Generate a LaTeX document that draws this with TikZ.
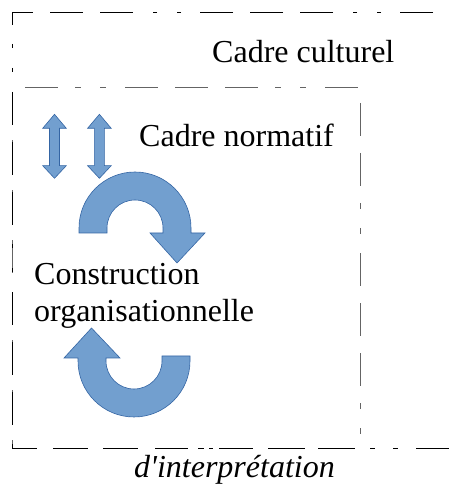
\documentclass[tikz,border=0pt]{standalone}
\usepackage{fontspec}
\setmainfont{Liberation Serif}
\definecolor{arrowfill}{RGB}{114,159,207}
\definecolor{arrowedge}{RGB}{52,101,164}
\definecolor{innerline}{RGB}{100,100,100}
\tikzset{
  framepattern/.style={line width=1bp, dash pattern=on 33bp off 17bp on 33bp off 17bp on 33bp off 19bp on 4bp off 20bp on 4bp off 20bp},
  innerpattern/.style={line width=1bp, innerline, dash pattern=on 33bp off 17bp on 33bp off 17bp on 33bp off 17bp on 6bp off 19bp on 6bp off 19bp},
  blockarrow/.style={fill=arrowfill, draw=arrowedge, line width=0.6bp, line join=miter},
  framelabel/.style={anchor=base west, inner sep=0pt, font=\fontsize{32bp}{37bp}\selectfont}
}
\begin{document}
\begin{tikzpicture}[x=1bp,y=1bp]
                        \useasboundingbox (0.000000,0.000000) rectangle (449.000000,485.000000);
                        
                        % Drawing inner frame (normatif)
                        \draw [innerpattern, dash phase=87bp] (12.000000,397.000000) -- (360.000000,397.000000) -- (360.000000,36.000000);%
                        \draw [innerpattern, dash phase=24bp] (12.000000,36.000000) -- (12.000000,397.000000);%
                        
                        % Drawing outer frame (culturel)
                        \draw [framepattern, dash phase=84bp] (449.000000,472.000000) -- (12.000000,472.000000) -- (12.000000,36.000000);%
                        \draw [line width=1bp, dash pattern=on 25bp off 16bp on 35bp off 15bp on 35bp off 17bp on 33bp off 10bp on 6bp off 5bp on 4bp off 6bp on 34bp off 15bp on 37bp off 13bp on 37bp off 15bp on 5bp off 18bp on 5bp off 18bp on 33bp off 10bp] (12.000000,36.000000) -- (449.000000,36.000000);%
                        
                        % Marking labels
                        \node [framelabel] (culturel) at (212.000000,422.000000) {Cadre culturel};%
                        \node [framelabel] (normatif) at (139.000000,338.000000) {Cadre normatif};%
                        \node [framelabel] (construction) at (34.000000,200.000000) {Construction};%
                        \node [framelabel] (organisation) at (34.000000,163.000000) {organisationnelle};%
                        \node [framelabel, font=\fontsize{32bp}{37bp}\selectfont\itshape] (interpretation) at (134.000000,7.000000) {d\textquotesingle interprétation};%
                        
                        % Drawing double arrow left
                        \draw [blockarrow] (54.500000,370.700000) -- (66.300000,356.700000) -- (59.500000,356.700000) -- (59.500000,319.300000) -- (66.300000,319.300000) -- (54.500000,306.700000) -- (42.700000,319.300000) -- (49.500000,319.300000) -- (49.500000,356.700000) -- (42.700000,356.700000) -- cycle;%
                        
                        % Drawing double arrow right
                        \draw [blockarrow] (99.400000,370.700000) -- (111.200000,356.700000) -- (104.400000,356.700000) -- (104.400000,319.300000) -- (111.200000,319.300000) -- (99.400000,306.700000) -- (87.600000,319.300000) -- (94.400000,319.300000) -- (94.400000,356.700000) -- (87.600000,356.700000) -- cycle;%
                        
                        % Drawing circular arrow top
                        \draw [blockarrow] (79.000000,252.000000) -- (79.000000,257.000000) arc [start angle=180, end angle=0, radius=56] -- (191.000000,252.000000) -- (205.000000,252.000000) -- (177.000000,222.000000) -- (150.000000,252.000000) -- (163.000000,252.000000) -- (163.000000,257.000000) arc [start angle=0, end angle=180, radius=28] -- (107.000000,252.000000) -- cycle;%
                        
                        % Drawing circular arrow bottom
                        \draw [blockarrow] (190.000000,129.000000) -- (190.000000,124.000000) arc [start angle=0, end angle=-180, radius=56] -- (78.000000,127.000000) -- (64.000000,127.000000) -- (91.500000,157.000000) -- (120.000000,127.000000) -- (106.000000,127.000000) -- (106.000000,124.000000) arc [start angle=180, end angle=360, radius=28] -- (162.000000,129.000000) -- cycle;%
\end{tikzpicture}
\end{document}
